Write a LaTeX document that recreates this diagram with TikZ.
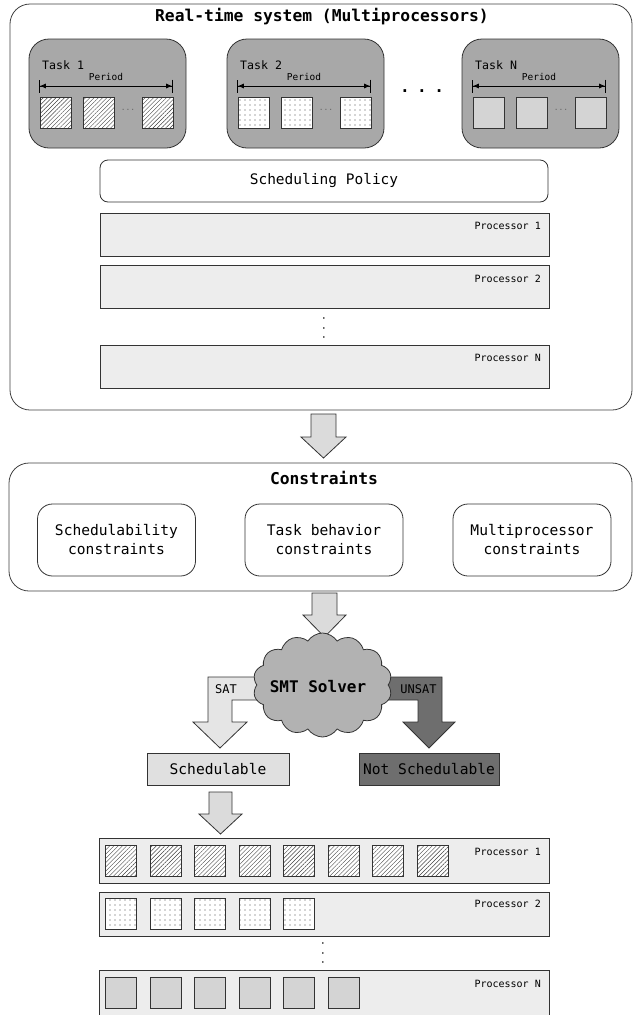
\documentclass[tikz,border=0pt]{standalone}
\usepackage{fontspec}
\setmainfont{DejaVu Sans Mono}
\usetikzlibrary{positioning,shapes.symbols,arrows.meta,patterns.meta}

\def\jobsize{31pt}
\def\jobstep{44.5}

\tikzset{
  bigbox/.style={draw=black!75, line width=0.8pt, fill=white, rounded corners=20pt},
  taskbox/.style={draw=black!80, line width=0.8pt, fill=black!34, rounded corners=20pt,
    minimum width=157pt, minimum height=109pt},
  policybox/.style={draw=black!80, line width=0.8pt, fill=white, rounded corners=8pt,
    minimum width=448pt, minimum height=42pt, font=\fontsize{14.5}{17}\selectfont},
  procbox/.style={draw=black!80, line width=0.8pt, fill=black!7,
    minimum width=449pt, minimum height=43pt},
  consbox/.style={draw=black!80, line width=0.8pt, fill=white, rounded corners=15pt,
    minimum width=158pt, minimum height=72pt, align=center, font=\fontsize{14.6}{19}\selectfont},
  resultbox/.style={draw=black!80, line width=0.8pt, minimum height=32pt,
    font=\fontsize{14.6}{17}\selectfont},
  hatchjob/.style={draw=black!80, line width=0.6pt, minimum size=\jobsize, preaction={fill=white},
    pattern={Lines[angle=45,distance=3pt,line width=0.4pt]}, pattern color=black!75},
  dotjob/.style={draw=black!80, line width=0.6pt, minimum size=\jobsize, preaction={fill=white},
    pattern={Dots[distance=5pt,radius=0.6pt]}, pattern color=black!70},
  greyjob/.style={draw=black!80, line width=0.6pt, minimum size=\jobsize, fill=black!17},
  fatarrow/.style={draw=black!80, line width=0.8pt, fill=black!14, line join=miter},
  periodarrow/.style={line width=0.8pt,
    {Bar[width=13pt]Latex[length=6pt,width=5pt]}-{Latex[length=6pt,width=5pt]Bar[width=13pt]}},
  lab/.style={inner sep=0pt},
  proclabel/.style={lab, anchor=east, font=\fontsize{10}{12}\selectfont},
  vdotslab/.style={lab, rotate=90, font=\fontsize{10}{12}\selectfont},
}

\begin{document}
\begin{tikzpicture}[x=1pt,y=-1pt]
  \useasboundingbox (0,0) rectangle (633,1015);

  % real-time system
  \node[bigbox, minimum width=622pt, minimum height=406pt] (sys) at (321,207) {};
  \node[lab, font=\fontsize{16.3}{19}\selectfont\bfseries] (systitle) at (322,17)
    {Real-time system (Multiprocessors)};

  % tasks
  \foreach \lx/\tname/\tlab/\jstyle in {29/taskA/Task 1/hatchjob,
      227/taskB/Task 2/dotjob, 462/taskN/Task N/greyjob} {
    \node[taskbox] (\tname) at (\lx+78.5,93.5) {};
    \node[lab, anchor=west, font=\fontsize{11.6}{14}\selectfont] (\tname-lab) at (\lx+13,65) {\tlab};
    \node[lab, font=\fontsize{9.5}{11}\selectfont] (\tname-per) at (\lx+77,77) {Period};
    \coordinate (\tname-ps) at (\lx+10,86);
    \coordinate (\tname-pe) at (\lx+144,86);
    \draw[periodarrow] (\tname-ps) -- (\tname-pe);
    \node[\jstyle] (\tname-j1) at (\lx+26.5,112.5) {};
    \node[\jstyle] (\tname-j2) at (\lx+69.5,112.5) {};
    \node[\jstyle] (\tname-j3) at (\lx+128.5,112.5) {};
    \node[lab, font=\fontsize{8}{9}\selectfont, text=black!60] (\tname-dots) at (\lx+99,110) {...};
  }
  \node[lab, font=\fontsize{16}{18}\selectfont\bfseries] (taskdots) at (422,91)
    {.\hspace{7.5pt}.\hspace{7.5pt}.};

  % scheduling policy
  \node[policybox] (policy) at (324,181) {Scheduling Policy};

  % processors
  \node[procbox] (procA) at (324.5,234.5) {};
  \node[proclabel] (procA-lab) at (541,226) {Processor 1};
  \node[procbox] (procB) at (324.5,286.5) {};
  \node[proclabel] (procB-lab) at (541,279) {Processor 2};
  \node[vdotslab] (procdots) at (324,328) {.\hspace{3.5pt}.\hspace{3.5pt}.};
  \node[procbox] (procN) at (324.5,366.5) {};
  \node[proclabel] (procN-lab) at (541,358) {Processor N};

  % arrow to constraints
  \draw[fatarrow] (311,414) -- (336,414) -- (336,437) -- (346,437) -- (323.5,458)
    -- (301,437) -- (311,437) -- cycle;

  % constraints
  \node[bigbox, minimum width=623pt, minimum height=128pt] (cons) at (320.5,527) {};
  \node[lab, font=\fontsize{16.3}{19}\selectfont\bfseries] (constitle) at (324,478) {Constraints};
  \node[consbox] (consA) at (116.5,540) {Schedulability\\constraints};
  \node[consbox] (consB) at (324,540) {Task behavior\\constraints};
  \node[consbox] (consC) at (532,540) {Multiprocessor\\constraints};

  % arrow to solver
  \draw[fatarrow] (312,593) -- (337,593) -- (337,615) -- (346,615) -- (324.5,637)
    -- (303,615) -- (312,615) -- cycle;

  % sat / unsat
  \draw[fatarrow, fill=black!10] (290,677) -- (208,677) -- (208,722) -- (193,722) -- (220,748)
    -- (247,722) -- (232,722) -- (232,700) -- (290,700) -- cycle;
  \node[lab, font=\fontsize{12}{14}\selectfont] (satlab) at (226,689) {SAT};
  \draw[fatarrow, fill=black!57] (355,677) -- (442,677) -- (442,722) -- (455,722) -- (429,748)
    -- (403,722) -- (418,722) -- (418,700) -- (355,700) -- cycle;

  % smt solver
  \node[cloud, cloud puffs=14, cloud puff arc=115, aspect=1.35, draw=black!80, line width=0.8pt,
    fill=black!30, minimum width=139pt, minimum height=104pt, inner sep=0pt] (solver) at (322.5,685) {};
  \node[lab, font=\fontsize{16}{18}\selectfont\bfseries] (solverlab) at (318,687) {SMT Solver};
  \node[lab, font=\fontsize{12}{14}\selectfont] (unsatlab) at (418.5,689) {UNSAT};

  % results
  \node[resultbox, fill=black!12, minimum width=142pt] (sched) at (218,769) {Schedulable};
  \node[resultbox, fill=black!57, minimum width=140pt] (nosched) at (429,769) {Not Schedulable};

  % arrow to schedule
  \draw[fatarrow] (209,792) -- (232,792) -- (232,814) -- (242,814) -- (220.5,834)
    -- (199,814) -- (209,814) -- cycle;

  % schedule
  \node[procbox, minimum width=450pt, minimum height=45pt] (outA) at (324,860.5) {};
  \node[proclabel] (outA-lab) at (541,852) {Processor 1};
  \foreach \k in {0,...,7}
    \node[hatchjob] (outA-j\k) at (121+\k*\jobstep,860.5) {};
  \node[procbox, minimum width=450pt, minimum height=44pt] (outB) at (324,914) {};
  \node[proclabel] (outB-lab) at (541,904) {Processor 2};
  \foreach \k in {0,...,4}
    \node[dotjob] (outB-j\k) at (121+\k*\jobstep,914) {};
  \node[vdotslab] (outdots) at (323,953) {.\hspace{3.5pt}.\hspace{3.5pt}.};
  \node[procbox, minimum width=450pt, minimum height=46pt] (outN) at (324,993) {};
  \node[proclabel] (outN-lab) at (541,984) {Processor N};
  \foreach \k in {0,...,5}
    \node[greyjob] (outN-j\k) at (121+\k*\jobstep,993) {};
\end{tikzpicture}
\end{document}
